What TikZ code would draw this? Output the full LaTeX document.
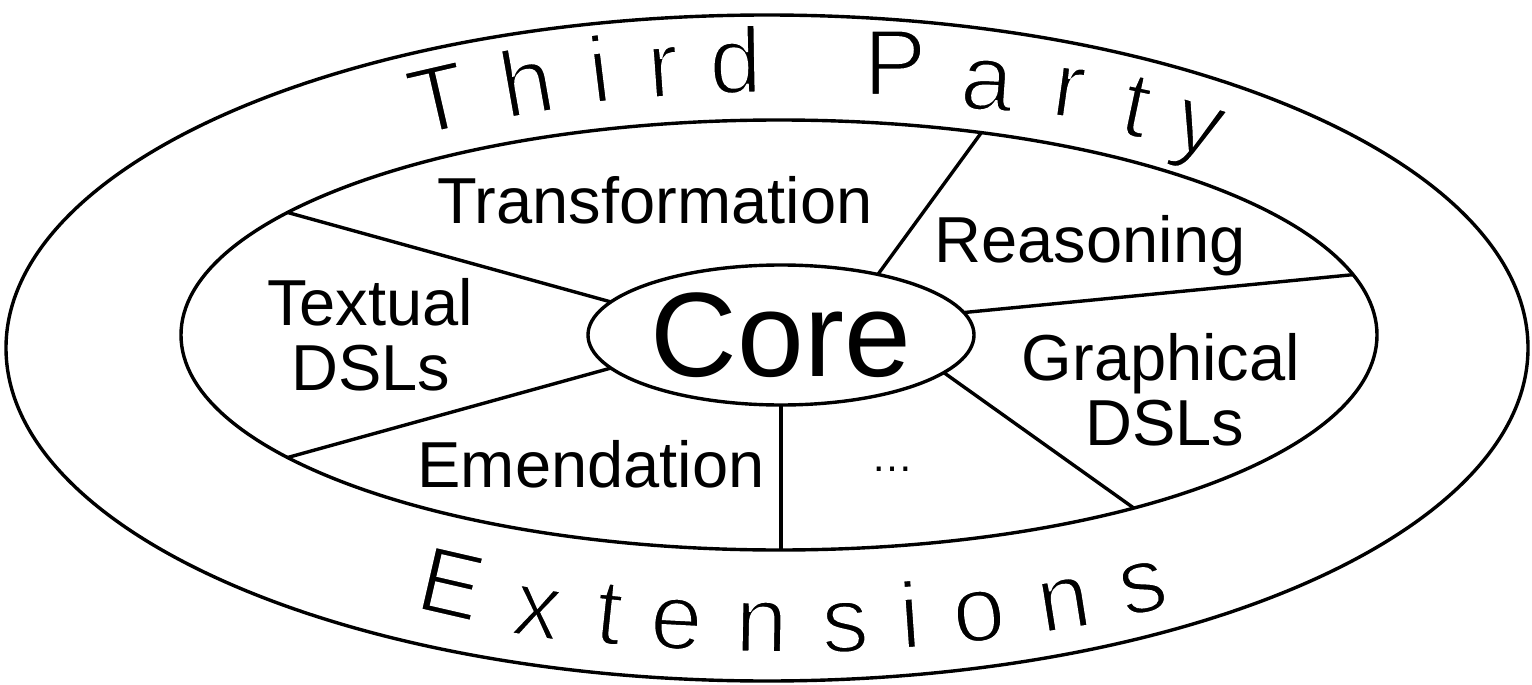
\documentclass[tikz,border=0pt]{standalone}
\usepackage{fontspec}
\setmainfont{Liberation Sans}
\newfontfamily\arcfont{Liberation Sans}[FakeBold=2.5]
\newcommand{\thinstroke}{\special{pdf:literal direct 1 1 1 RG}}
\usetikzlibrary{shapes.geometric}
\begin{document}
\begin{tikzpicture}[x=1pt,y=-1pt,line width=3.4pt,
  ell/.style={draw,ellipse,inner sep=0pt,outer sep=0pt},
  lbl/.style={anchor=base,inner sep=0pt,font=\fontsize{65}{65}\selectfont},
  arcl/.style={anchor=base,inner sep=0pt,font=\arcfont\fontsize{94}{94}\selectfont\thinstroke},
  conn/.style={draw,line width=3.4pt}]
\useasboundingbox (0,0) rectangle (1532,685);
\node[ell,minimum width=1522pt,minimum height=666pt] (outer) at (767,348) {};
\node[ell,minimum width=1196pt,minimum height=430pt] (inner) at (779,335) {};
\node[ell,minimum width=386pt,minimum height=140pt,font=\fontsize{120}{120}\selectfont] (core) at (781,335) {Core};
% connectors
\draw[conn] (core.169) -- (inner.166);
\draw[conn] (core.191) -- (inner.194);
\draw[conn] (core.32) -- (inner.45);
\draw[conn] (core.7) -- (inner.6);
\draw[conn] (core.347) -- (inner.334);
\draw[conn] (core.south) -- (core.south |- inner.south);
% labels
\node[lbl] (transf) at (655,223) {Transformation};
\node[lbl] (reas) at (1090,262) {Reasoning};
\node[lbl] (textA) at (370,325) {Textual};
\node[lbl] (textB) at (371,390) {DSLs};
\node[lbl] (graphA) at (1161,380) {Graphical};
\node[lbl] (graphB) at (1165,445) {DSLs};
\node[lbl] (emend) at (591,487) {Emendation};
\node[lbl,font=\fontsize{42}{42}\selectfont] (dots) at (892,471) {…};
% Third Party
\node[arcl,rotate=13] (tA) at (445,130) {T};
\node[arcl,rotate=10] (tB) at (532,114) {h};
\node[arcl,rotate=7] (tC) at (603,102) {i};
\node[arcl,rotate=4] (tD) at (665,97) {r};
\node[arcl,rotate=1] (tE) at (736,93) {d};
\node[arcl,rotate=0] (tF) at (895,95) {P};
\node[arcl,rotate=-4] (tG) at (985,110) {a};
\node[arcl,rotate=-8] (tH) at (1065,117) {r};
\node[arcl,rotate=-12] (tI) at (1130,136) {t};
\node[arcl,rotate=-17] (tJ) at (1191,152) {y};
% Extensions
\node[arcl,rotate=-13] (eA) at (444,615) {E};
\node[arcl,rotate=-9] (eB) at (533,637) {x};
\node[arcl,rotate=-6] (eC) at (606,644) {t};
\node[arcl,rotate=-3] (eD) at (675,649) {e};
\node[arcl,rotate=-1] (eE) at (761,652) {n};
\node[arcl,rotate=2] (eF) at (846,652) {s};
\node[arcl,rotate=4] (eG) at (912,648) {i};
\node[arcl,rotate=7] (eH) at (982,641) {o};
\node[arcl,rotate=9] (eI) at (1068,629) {n};
\node[arcl,rotate=12] (eJ) at (1148,612) {s};
\end{tikzpicture}
\end{document}
